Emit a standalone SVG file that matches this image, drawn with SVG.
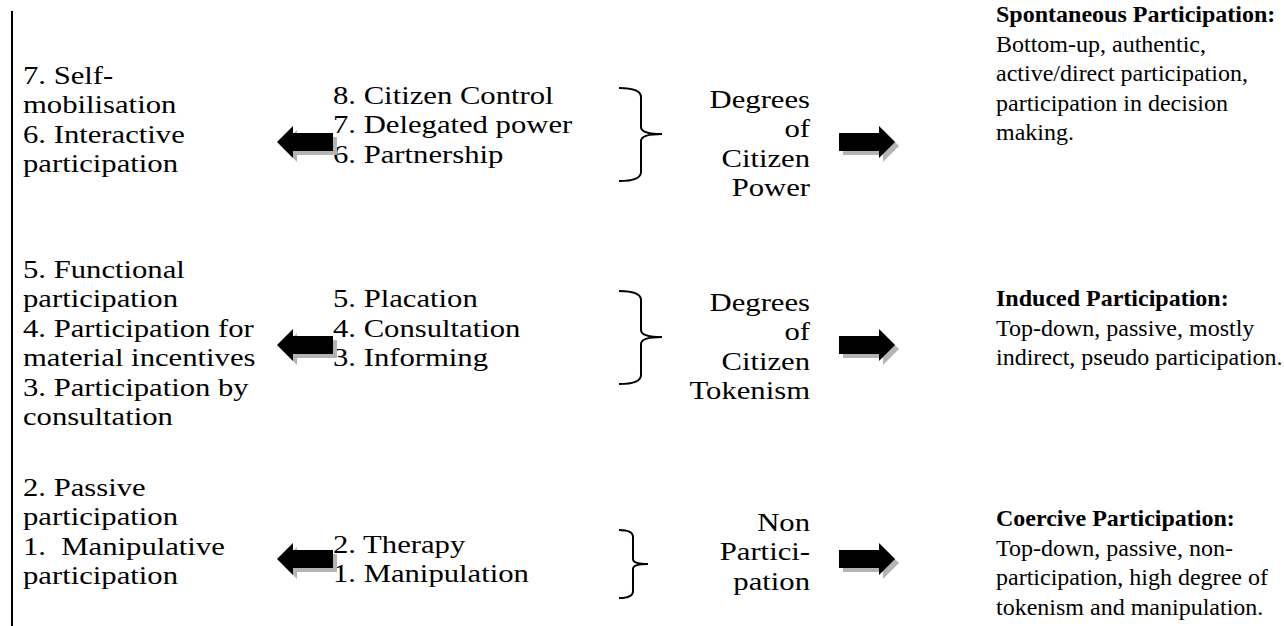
<svg xmlns="http://www.w3.org/2000/svg" xmlns:xlink="http://www.w3.org/1999/xlink" width="1284" height="626" viewBox="0 0 1284 626">
<style>
text{font-family:"Liberation Serif","Times New Roman",serif;font-size:26px;fill:#000}
.r{font-size:24px}
.b{font-weight:bold}
.e{text-anchor:end}
.brace{fill:none;stroke:#000;stroke-width:2}
.sh{fill:#b4b4b4}
.ar{fill:#000}
</style>
<defs>
<path id="la" d="M0,0 L16,-16 L16,-9 L56,-9 L56,9 L16,9 L16,16 Z"/>
<path id="ra" d="M0,0 L-16,-16 L-16,-9 L-56,-9 L-56,9 L-16,9 L-16,16 Z"/>
</defs>
<rect width="1284" height="626" fill="#fff"/>
<line x1="12" y1="11" x2="12" y2="626" stroke="#000" stroke-width="2"/>

<g id="row1-left"><g transform="translate(23,0) scale(1.18,1)"><text><tspan x="0" y="84">7. Self-</tspan><tspan x="0" y="113.5">mobilisation</tspan><tspan x="0" y="143">6. Interactive</tspan><tspan x="0" y="172.5">participation</tspan></text></g></g>
<g id="row1-mid"><g transform="translate(333,0) scale(1.18,1)"><text><tspan x="0" y="104">8. Citizen Control</tspan><tspan x="0" y="133.5">7. Delegated power</tspan><tspan x="0" y="163">6. Partnership</tspan></text></g></g>
<g id="row1-degree"><g transform="translate(810,0) scale(1.18,1)"><text class="e"><tspan x="0" y="108">Degrees</tspan><tspan x="0" y="137.5">of</tspan><tspan x="0" y="167">Citizen</tspan><tspan x="0" y="196.5">Power</tspan></text></g></g>
<g id="row1-right"><text class="r"><tspan x="996" y="22" class="b">Spontaneous Participation:</tspan><tspan x="996" y="51.5">Bottom-up, authentic,</tspan><tspan x="996" y="81">active/direct participation,</tspan><tspan x="996" y="110.5">participation in decision</tspan><tspan x="996" y="140">making.</tspan></text></g>

<g id="row2-left"><g transform="translate(23,0) scale(1.18,1)"><text><tspan x="0" y="278">5. Functional</tspan><tspan x="0" y="307.5">participation</tspan><tspan x="0" y="337">4. Participation for</tspan><tspan x="0" y="366.5">material incentives</tspan><tspan x="0" y="396">3. Participation by</tspan><tspan x="0" y="425.5">consultation</tspan></text></g></g>
<g id="row2-mid"><g transform="translate(333,0) scale(1.18,1)"><text><tspan x="0" y="307.5">5. Placation</tspan><tspan x="0" y="337">4. Consultation</tspan><tspan x="0" y="366.5">3. Informing</tspan></text></g></g>
<g id="row2-degree"><g transform="translate(810,0) scale(1.18,1)"><text class="e"><tspan x="0" y="311">Degrees</tspan><tspan x="0" y="340.5">of</tspan><tspan x="0" y="370">Citizen</tspan><tspan x="0" y="399.5">Tokenism</tspan></text></g></g>
<g id="row2-right"><text class="r"><tspan x="996" y="306" class="b">Induced Participation:</tspan><tspan x="996" y="335.5">Top-down, passive, mostly</tspan><tspan x="996" y="365">indirect, pseudo participation.</tspan></text></g>

<g id="row3-left"><g transform="translate(23,0) scale(1.18,1)"><text xml:space="preserve"><tspan x="0" y="496">2. Passive</tspan><tspan x="0" y="525.5">participation</tspan><tspan x="0" y="555">1.  Manipulative</tspan><tspan x="0" y="584.5">participation</tspan></text></g></g>
<g id="row3-mid"><g transform="translate(333,0) scale(1.18,1)"><text><tspan x="0" y="553">2. Therapy</tspan><tspan x="0" y="582.5">1. Manipulation</tspan></text></g></g>
<g id="row3-degree"><g transform="translate(810,0) scale(1.18,1)"><text class="e"><tspan x="0" y="531">Non</tspan><tspan x="0" y="560.5">Partici-</tspan><tspan x="0" y="590">pation</tspan></text></g></g>
<g id="row3-right"><text class="r"><tspan x="996" y="526" class="b">Coercive Participation:</tspan><tspan x="996" y="555.5">Top-down, passive, non-</tspan><tspan x="996" y="585">participation, high degree of</tspan><tspan x="996" y="614.5">tokenism and manipulation.</tspan></text></g>

<g id="connectors">
<path class="brace" d="M619,88 Q641,88 641,97 L641,127 Q641,134 662,134 Q641,134 641,141 L641,172 Q641,181 619,181"/>
<path class="brace" d="M619,291 Q641,291 641,300 L641,330 Q641,337 662,337 Q641,337 641,344 L641,375 Q641,384 619,384"/>
<path class="brace" d="M619,530 Q633,530 633,537 L633,559 Q633,564 648,564 Q633,564 633,569 L633,591 Q633,598 619,598"/>
<use xlink:href="#la" class="sh" x="281" y="146"/><use xlink:href="#la" class="ar" x="277" y="142"/>
<use xlink:href="#la" class="sh" x="281" y="349"/><use xlink:href="#la" class="ar" x="277" y="345"/>
<use xlink:href="#la" class="sh" x="281" y="563"/><use xlink:href="#la" class="ar" x="277" y="559"/>
<use xlink:href="#ra" class="sh" x="899" y="146"/><use xlink:href="#ra" class="ar" x="895" y="142"/>
<use xlink:href="#ra" class="sh" x="899" y="349"/><use xlink:href="#ra" class="ar" x="895" y="345"/>
<use xlink:href="#ra" class="sh" x="899" y="563"/><use xlink:href="#ra" class="ar" x="895" y="559"/>
</g>
</svg>
